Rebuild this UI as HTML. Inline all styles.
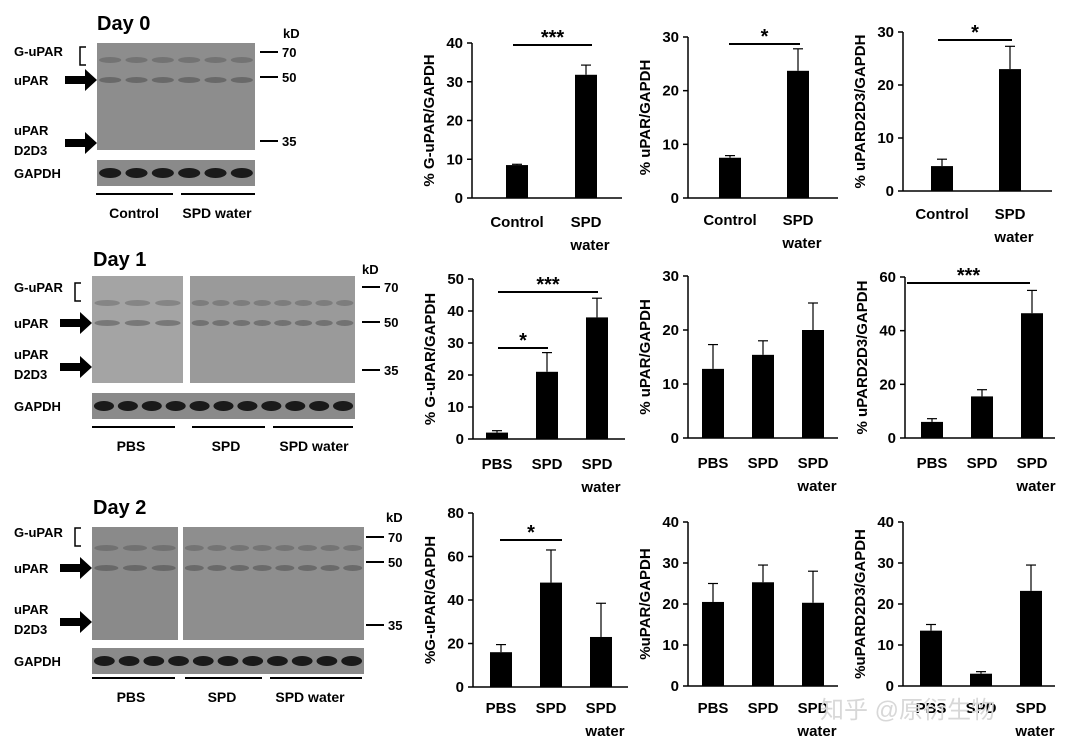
<!DOCTYPE html>
<html><head><meta charset="utf-8"><style>
body{margin:0;background:#fff}
svg{display:block;font-family:"Liberation Sans","Noto Sans CJK SC",sans-serif;font-weight:bold}
</style></head><body>
<svg id="fig" width="1080" height="752" viewBox="0 0 1080 752" xmlns="http://www.w3.org/2000/svg">
<rect width="1080" height="752" fill="#fff"/>
<g id="blots"></g>
<g id="charts"></g>
<text x="820" y="718" font-size="24" fill="#d8d8d8" font-weight="normal">知乎 @原衍生物</text>
</svg>
<script>
// ---- chart data ----
const catsDay0 = [["Control"],["SPD","water"]];
const catsDay12 = [["PBS"],["SPD"],["SPD","water"]];
const valsA = [8.5, 31.8];   const errA = [8.7, 34.3];
const valsB = [7.5, 23.7];   const errB = [7.9, 27.8];
const valsC = [4.7, 23.0];   const errC = [6.0, 27.3];
const valsD = [2.0, 21.0, 38.0]; const errD = [2.6, 27.0, 44.0];
const valsE = [12.8, 15.4, 20.0]; const errE = [17.3, 18.0, 25.0];
const valsF = [6.0, 15.5, 46.5]; const errF = [7.2, 18.0, 55.0];
const valsG = [16.0, 48.0, 23.0]; const errG = [19.5, 63.0, 38.5];
const valsH = [20.5, 25.3, 20.3]; const errH = [25.0, 29.5, 28.0];
const valsI = [13.5, 3.0, 23.2]; const errI = [15.0, 3.5, 29.5];
const ticksA = [0,10,20,30,40];
const ticks30 = [0,10,20,30];
const ticks50 = [0,10,20,30,40,50];
const ticks60 = [0,20,40,60];
const ticks80 = [0,20,40,60,80];
const ticks40 = [0,10,20,30,40];

const NS="http://www.w3.org/2000/svg";
function mk(parent,tag,attrs,text){const e=document.createElementNS(NS,tag);for(const k in attrs)e.setAttribute(k,attrs[k]);if(text!==undefined)e.textContent=text;parent.appendChild(e);return e;}

const chartsG=document.getElementById('charts');
function chart(cfg){
  const g=mk(chartsG,'g',{});
  
  
  const max=cfg.ticks[cfg.ticks.length-1];
  const y=v=>cfg.bottom-(v/max)*(cfg.bottom-cfg.top);
  const x=i=>cfg.x0+i*cfg.step;
  const ax=mk(g,'line',{x1:cfg.ax,x2:cfg.ax,y1:cfg.top,y2:cfg.bottom,stroke:'#000','stroke-width':1.5});
  
  
  const bx=mk(g,'line',{x1:cfg.ax,x2:cfg.right,y1:cfg.bottom,y2:cfg.bottom,stroke:'#000','stroke-width':1.5});
  
  
  cfg.ticks.forEach(t=>{
    mk(g,'line',{x1:cfg.ax-5,x2:cfg.ax,y1:y(t),y2:y(t),stroke:'#000','stroke-width':1.5});
    const tl=mk(g,'text',{x:cfg.ax-9,y:y(t)+5,'font-size':15,'text-anchor':'end'},t);
    
    
  });
  const tt=mk(g,'text',{transform:`translate(${cfg.ax-38},${(cfg.top+cfg.bottom)/2}) rotate(-90)`,'font-size':15,'text-anchor':'middle'},cfg.title);
  
  
  cfg.vals.forEach((v,i)=>{
    const cx=x(i);
    const ey=y(cfg.err[i]);
    mk(g,'line',{x1:cx,x2:cx,y1:ey,y2:y(v),stroke:'#000','stroke-width':1.2});
    mk(g,'line',{x1:cx-5,x2:cx+5,y1:ey,y2:ey,stroke:'#000','stroke-width':1.2});
    const b=mk(g,'rect',{x:cx-11,y:y(v),width:22,height:cfg.bottom-y(v),fill:'#000'});
    
    
    cfg.cats[i].forEach((s,j)=>{
      const l=mk(g,'text',{x:cx+(j?4:0),y:cfg.bottom+cfg.lab+j*23,'font-size':15,'text-anchor':'middle'},s);
      
      
    });
  });
  (cfg.sig||[]).forEach(s=>{
    mk(g,'line',{x1:s[0],x2:s[1],y1:s[2],y2:s[2],stroke:'#000','stroke-width':2});
    const st=mk(g,'text',{x:(s[0]+s[1])/2,y:s[2]-1,'font-size':20,'text-anchor':'middle'},s[3]);
    
    
  });
}
chart({name:'chart-day0-guPAR',ax:472,right:622,top:43,bottom:198,ticks:ticksA,vals:valsA,err:errA,cats:catsDay0,x0:517,step:69,lab:29,title:'% G-uPAR/GAPDH',sig:[[513,592,45,'***']]});
chart({name:'chart-day0-uPAR',ax:688,right:838,top:37,bottom:198,ticks:ticks30,vals:valsB,err:errB,cats:catsDay0,x0:730,step:68,lab:27,title:'% uPAR/GAPDH',sig:[[729,800,44,'*']]});
chart({name:'chart-day0-uPARD2D3',ax:903,right:1052,top:32,bottom:191,ticks:ticks30,vals:valsC,err:errC,cats:catsDay0,x0:942,step:68,lab:28,title:'% uPARD2D3/GAPDH',sig:[[938,1012,40,'*']]});
chart({name:'chart-day1-guPAR',ax:473,right:625,top:279,bottom:439,ticks:ticks50,vals:valsD,err:errD,cats:catsDay12,x0:497,step:50,lab:30,title:'% G-uPAR/GAPDH',sig:[[498,548,348,'*'],[498,598,292,'***']]});
chart({name:'chart-day1-uPAR',ax:688,right:838,top:276,bottom:438,ticks:ticks30,vals:valsE,err:errE,cats:catsDay12,x0:713,step:50,lab:30,title:'% uPAR/GAPDH'});
chart({name:'chart-day1-uPARD2D3',ax:905,right:1055,top:277,bottom:438,ticks:ticks60,vals:valsF,err:errF,cats:catsDay12,x0:932,step:50,lab:30,title:'% uPARD2D3/GAPDH',sig:[[907,1030,283,'***']]});
chart({name:'chart-day2-guPAR',ax:473,right:628,top:513,bottom:687,ticks:ticks80,vals:valsG,err:errG,cats:catsDay12,x0:501,step:50,lab:26,title:'%G-uPAR/GAPDH',sig:[[500,562,540,'*']]});
chart({name:'chart-day2-uPAR',ax:688,right:838,top:522,bottom:686,ticks:ticks40,vals:valsH,err:errH,cats:catsDay12,x0:713,step:50,lab:27,title:'%uPAR/GAPDH'});
chart({name:'chart-day2-uPARD2D3',ax:903,right:1055,top:522,bottom:686,ticks:ticks40,vals:valsI,err:errI,cats:catsDay12,x0:931,step:50,lab:27,title:'%uPARD2D3/GAPDH'});

// ---- blots ----
const bl=document.getElementById('blots');
function T(x,y,s,fs,anchor){const t=mk(bl,'text',{x:x,y:y,'font-size':fs||13,'text-anchor':anchor||'start'},s);return t;}
function arrow(x,y){mk(bl,'polygon',{points:`${x},${y-4} ${x+20},${y-4} ${x+20},${y-11} ${x+32},${y} ${x+20},${y+11} ${x+20},${y+4} ${x},${y+4}`,fill:'#000'});}
function panel(x,y,w,h,fill){const r=mk(bl,'rect',{x:x,y:y,width:w,height:h,fill:fill});}
function bands(x,w,y,n,col,h){for(let i=0;i<n;i++){mk(bl,'ellipse',{cx:x+w*(i+0.5)/n,cy:y,rx:w/n*0.42,ry:h||3,fill:col});}}
function block(o){
  T(o.tx,o.ty,o.day,20);
  T(o.kx,o.ty+8,'kD',13);
  T(14,o.r1,'G-uPAR');
  mk(bl,'path',{d:`M${o.brx+6},${o.r1-9} h-6 v18 h6`,fill:'none',stroke:'#000','stroke-width':1.5});
  T(14,o.r2+5,'uPAR');arrow(o.arx,o.r2);
  T(14,o.r3-8,'uPAR');T(14,o.r3+12,'D2D3');arrow(o.arx,o.r3);
  o.panels.forEach(p=>panel(p[0],o.py,p[1],o.ph,p[2]));
  o.panels.forEach(p=>{bands(p[0],p[1],o.r2,p[3],'rgba(40,40,40,0.35)');bands(p[0],p[1],o.r2-20,p[3],'rgba(40,40,40,0.25)');});
  T(14,o.gy+5,'GAPDH',13);
  panel(o.gx,o.gy-13,o.gw,26,'#8a8a8a');
  bands(o.gx,o.gw,o.gy,o.gn,'#1a1a1a',5);
  o.kd.forEach(k=>{mk(bl,'line',{x1:o.kdx,x2:o.kdx+18,y1:k[0],y2:k[0],stroke:'#000','stroke-width':2});T(o.kdx+22,k[0]+5,k[1],13);});
  o.lines.forEach(l=>{mk(bl,'line',{x1:l[0],x2:l[1],y1:o.ly,y2:o.ly,stroke:'#000','stroke-width':2});});
  o.labels.forEach(l=>T(l[0],o.ly+24,l[1],14,'middle'));
}
block({day:'Day 0',tx:97,ty:30,kx:283,r1:56,r2:80,r3:143,brx:80,arx:65,panels:[[97,158,'#8d8d8d',6]],py:43,ph:107,gx:97,gy:173,gw:158,gn:6,kdx:260,kd:[[52,'70'],[77,'50'],[141,'35']],ly:194,lines:[[96,173],[181,255]],labels:[[134,'Control'],[217,'SPD water']]});
block({day:'Day 1',tx:93,ty:266,kx:362,r1:292,r2:323,r3:367,brx:75,arx:60,panels:[[92,91,'#a4a4a4',3],[190,165,'#9a9a9a',8]],py:276,ph:107,gx:92,gy:406,gw:263,gn:11,kdx:362,kd:[[287,'70'],[322,'50'],[370,'35']],ly:427,lines:[[92,175],[192,265],[273,353]],labels:[[131,'PBS'],[226,'SPD'],[314,'SPD water']]});
block({day:'Day 2',tx:93,ty:514,kx:386,r1:537,r2:568,r3:622,brx:75,arx:60,panels:[[92,86,'#8a8a8a',3],[183,181,'#8e8e8e',8]],py:527,ph:113,gx:92,gy:661,gw:272,gn:11,kdx:366,kd:[[562,'50'],[625,'35']],ly:678,lines:[[92,175],[185,262],[270,362]],labels:[[131,'PBS'],[222,'SPD'],[310,'SPD water']]});
mk(bl,'line',{x1:366,x2:384,y1:537,y2:537,stroke:'#000','stroke-width':2});
T(388,542,'70',13);
</script>
</body></html>
